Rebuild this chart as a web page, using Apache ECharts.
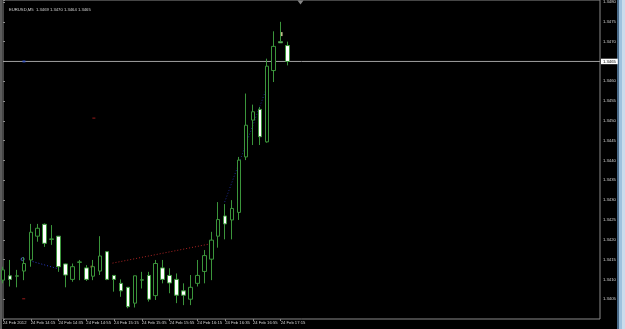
<!DOCTYPE html>
<html>
<head>
<meta charset="utf-8">
<script src="https://cdn.jsdelivr.net/npm/echarts@6/dist/echarts.min.js"></script>
<style>
html,body{margin:0;padding:0;background:#000;}
#c{width:625px;height:329px;}
</style>
</head>
<body>
<div id="c"></div>
<script>
// ---- data (EURUSD, M5, 24 Feb 2012) ----
var startTime = '13:55';
var slotCount = 87; // visible bar slots incl. chart shift
var tickLabels = ['24 Feb 2012','24 Feb 14:15','24 Feb 14:35','24 Feb 14:55','24 Feb 15:15','24 Feb 15:35','24 Feb 15:55','24 Feb 16:15','24 Feb 16:35','24 Feb 16:55','24 Feb 17:15'];
var opens  = [1.34098,1.34109,1.34108,1.34121,1.34149,1.34209,1.34239,1.34201,1.34209,1.34139,1.34100,1.34143,1.34129,1.34108,1.34121,1.34170,1.34110,1.34090,1.34080,1.34040,1.34098,1.34110,1.34059,1.34129,1.34110,1.34100,1.34071,1.34050,1.34090,1.34120,1.34151,1.34209,1.34260,1.34250,1.34269,1.34409,1.34502,1.34529,1.34447,1.34627,1.34700,1.3469];
var closes = [1.34124,1.34100,1.34109,1.34140,1.34219,1.34229,1.34191,1.34202,1.34132,1.34111,1.34132,1.34144,1.34100,1.34132,1.34159,1.34100,1.34100,1.34071,1.34031,1.34109,1.34099,1.34050,1.34140,1.34100,1.34091,1.34060,1.34060,1.34080,1.34110,1.34160,1.34199,1.34251,1.34240,1.34279,1.34401,1.34489,1.34523,1.34460,1.34638,1.34688,1.34697,1.3465];
var lows   = [1.34090,1.34082,1.34080,1.34098,1.34132,1.34195,1.34182,1.34187,1.34119,1.34080,1.34094,1.34098,1.34096,1.34098,1.34111,1.34098,1.34069,1.34056,1.34027,1.34029,1.34077,1.34044,1.34048,1.34090,1.34065,1.34040,1.34035,1.34035,1.34082,1.34090,1.34098,1.34180,1.34201,1.34201,1.34250,1.34401,1.34439,1.34439,1.34445,1.34598,1.34697,1.3464];
var highs  = [1.34132,1.34149,1.34124,1.34156,1.34240,1.34240,1.34241,1.34237,1.34209,1.34140,1.34140,1.34149,1.34136,1.34149,1.34209,1.34170,1.34110,1.34100,1.34080,1.34109,1.34119,1.34119,1.34149,1.34149,1.34128,1.34115,1.34090,1.34111,1.34149,1.34174,1.34220,1.34295,1.34290,1.34300,1.34409,1.34569,1.34541,1.34535,1.34657,1.34726,1.34750,1.3470];
var lastPrice = 1.3465;
var titleText = 'EURUSD,M5  1.3469 1.3470 1.3464 1.3465';
// trade history / object markers (bar position, price)
var blueLine1 = [[4.27,1.34145],[8.10,1.34126]];
var blueLine2 = [[31.93,1.34295],[37.97,1.34583]];
var redLine   = [[15.78,1.34141],[29.67,1.34189]];
var blueDots  = [[2.83,1.34151]];
var priceLineMark = [[3.02,1.3465]];
var redDashes = [[2.98,1.34051],[13.09,1.34507]];
var orangeDot = [[12.76,1.34132]];
var yellowMark = [[40.13,1.34719]];
var shiftMark = [[42.86,1.34799]];

// ---- build ----
var categories = [];
(function(){
  var p = startTime.split(':'); var m = (+p[0])*60 + (+p[1]);
  for (var i=0;i<slotCount;i++){
    var t = m + i*5; var hh = Math.floor(t/60)%24, mm = t%60;
    categories.push((hh<10?'0':'')+hh+':'+(mm<10?'0':'')+mm);
  }
})();
var candles = opens.map(function(o,i){ return [o, closes[i], lows[i], highs[i]]; });
var priceLine = [[0,lastPrice],[slotCount-1,lastPrice]];

var green = '#3b953b';
var txt = '#d4d4d4';
var font = 'Liberation Sans';
var chart = echarts.init(document.getElementById('c'), null, {renderer:'canvas'});
chart.setOption({
  backgroundColor:'#000',
  animation:false,
  title:{ text:titleText, left:4, top:3, textStyle:{color:txt,fontSize:4.2,fontWeight:'normal',fontFamily:font}},
  grid:{ left:2, right:25, top:0, bottom:10, show:true, borderColor:'#8a8a8a', borderWidth:1, backgroundColor:'#000'},
  xAxis:[{
    type:'category', data:categories, boundaryGap:false,
    axisLine:{show:false},
    axisTick:{show:true, length:2, lineStyle:{color:'#8a8a8a'}, interval:function(i){ return i%4===0 && i/4 < tickLabels.length; }},
    axisLabel:{ interval:0, align:'left', margin:2, fontSize:4.2, color:txt, fontFamily:font,
      formatter:function(v,i){ return (i%4===0 && i/4 < tickLabels.length) ? tickLabels[i/4] : ''; } },
    splitLine:{show:false}
  },{
    type:'value', min:0, max:slotCount-1, show:false
  }],
  yAxis:[{
    type:'value', position:'right', min:1.3400, max:1.34805, interval:0.0005,
    axisLine:{show:false},
    axisTick:{show:true, length:2, lineStyle:{color:'#8a8a8a'}},
    axisLabel:{ margin:3, fontSize:4.2, color:txt, fontFamily:font,
      formatter:function(v){ var k=v*2000; if (Math.abs(k-Math.round(k))>1e-6 || v<1.34025) return ''; return v.toFixed(4);} },
    splitLine:{show:false}
  }],
  series:[
    { type:'line', xAxisIndex:1, data:priceLine, symbol:'none', silent:true, z:1,
      lineStyle:{color:'#a0a0a0', width:1, type:'solid'},
      endLabel:{ show:true, distance:1, formatter:function(){return lastPrice.toFixed(4);},
        color:'#000', backgroundColor:'#ffffff', fontSize:4.2, fontFamily:font, padding:[1,2,0.5,2] } },
    { type:'candlestick', data:candles, barWidth:4, xAxisIndex:0, yAxisIndex:0, z:3,
      itemStyle:{ color:'#000', color0:'#ffffff', borderColor:green, borderColor0:green, borderWidth:1 } },
    { type:'line', xAxisIndex:1, data:blueLine1, symbol:'none', lineStyle:{color:'#2a3ac8', width:1, type:[1,2]}},
    { type:'line', xAxisIndex:1, data:blueLine2, symbol:'none', lineStyle:{color:'#1c2a90', width:1, type:[1,2]}},
    { type:'line', xAxisIndex:1, data:redLine, symbol:'none', lineStyle:{color:'#b02424', width:1, type:[1,2]}},
    { type:'scatter', xAxisIndex:1, data:blueDots, symbol:'circle', symbolSize:3, itemStyle:{color:'#000', borderColor:'#5a78e0', borderWidth:1}},
    { type:'scatter', xAxisIndex:1, data:priceLineMark, symbol:'rect', symbolSize:[3,2], itemStyle:{color:'#3050d0'}, z:5},
    { type:'scatter', xAxisIndex:1, data:redDashes, symbol:'rect', symbolSize:[3,1], itemStyle:{color:'#c02020'}},
    { type:'scatter', xAxisIndex:1, data:orangeDot, symbol:'rect', symbolSize:[2,2], itemStyle:{color:'#e09040'}},
    { type:'scatter', xAxisIndex:1, data:yellowMark, symbol:'rect', symbolSize:[2,4], itemStyle:{color:'#f2eab0'}},
    { type:'scatter', xAxisIndex:1, data:shiftMark, symbol:'triangle', symbolRotate:180, symbolSize:[6,4], itemStyle:{color:'#a8a8a8'}}
  ],
  graphic:[
    {type:'rect', shape:{x:0,y:0,width:2,height:329}, style:{fill:'#5c5c5c'}},
    {type:'rect', shape:{x:617,y:0,width:2,height:329}, style:{fill:'#4a6a88'}},
    {type:'rect', shape:{x:619,y:0,width:3,height:329}, style:{fill:'#9fc2de'}},
    {type:'rect', shape:{x:622,y:0,width:3,height:329}, style:{fill:'#c9dcec'}}
  ]
});
</script>
</body>
</html>
